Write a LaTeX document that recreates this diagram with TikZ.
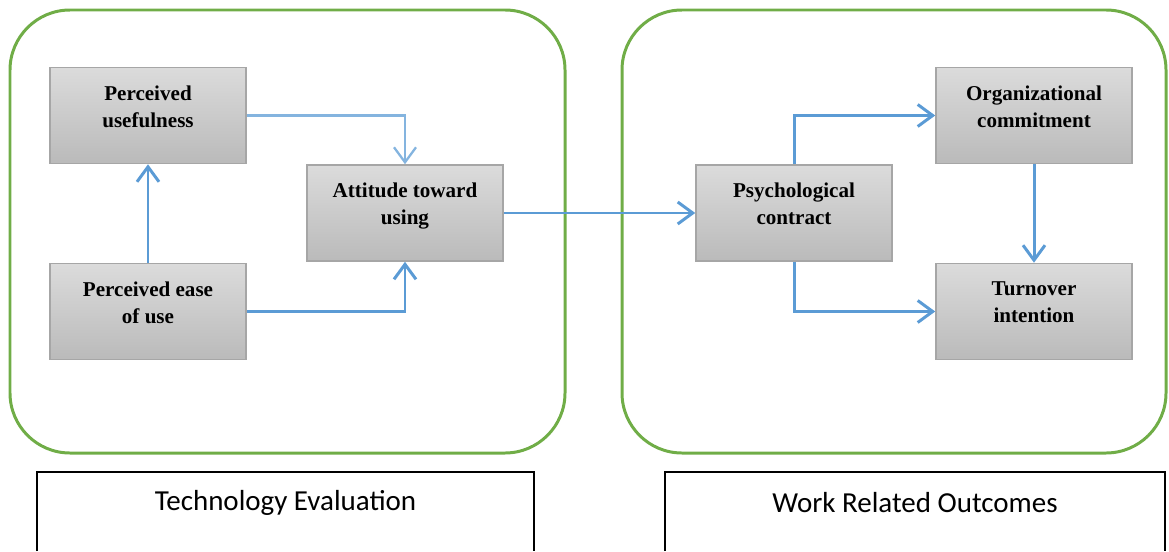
\documentclass[tikz,border=0pt]{standalone}
\usepackage{fontspec}
\setmainfont{Liberation Serif}
\newfontfamily\factorfont{Liberation Serif}
\newfontfamily\captionfont{Carlito}
\usetikzlibrary{arrows.meta}
\usetikzlibrary{calc}

\definecolor{linkblue}{HTML}{5B9BD5}
\definecolor{framegreen}{HTML}{70AD47}
\definecolor{boxedge}{HTML}{A6A6A6}

\begin{document}
\begin{tikzpicture}[x=0.02cm, y=-0.02cm, >={Straight Barb[length=3mm, width=4.4mm]},
    factor/.style={draw=boxedge, line width=0.9pt, top color=black!14, bottom color=black!27,
        minimum width=3.92cm, minimum height=1.92cm, align=center, text depth=0.36cm,
        font=\factorfont\fontsize{12}{15.3}\selectfont\bfseries},
    link/.style={->, linkblue, line width=1.7pt},
    frame/.style={framegreen, line width=1.7pt, rounded corners=1.2cm},
    caption/.style={font=\captionfont\fontsize{16.5}{19}\selectfont}]

        \useasboundingbox (0,0) rectangle (1169,551);

        % Draw group frames
        \draw[frame] (10,10) rectangle (565,453);
        \draw[frame] (622,10) rectangle (1166,453);

        % Technology evaluation factors
        \node[factor] (useful) at (148,115.5) {Perceived\\usefulness};
        \node[factor] (ease) at (148,311.5) {Perceived ease\\of use};
        \node[factor] (attitude) at (405,213) {Attitude toward\\using};

        % Work related factors
        \node[factor] (contract) at (794,213) {Psychological\\contract};
        \node[factor] (commit) at (1034,115.5) {Organizational\\commitment};
        \node[factor] (turnover) at (1034,311.5) {Turnover\\intention};

        % Draw connectors
        \draw[link, linkblue!75, line width=1.3pt] (useful.east) -| (attitude.north);
        \draw[link] (ease.north) -- (useful.south);
        \draw[link] (ease.east) -| (attitude.south);
        \draw[link] (attitude.east) -- (contract.west);
        \draw[link] (contract.north) |- (commit.west);
        \draw[link] (contract.south) |- (turnover.west);
        \draw[link] (commit.south) -- (turnover.north);

        % Captions below
        \draw[line width=1.1pt] (37,551) -- (37,472) -- (534,472) -- (534,551);
        \draw[line width=1.1pt] (665,551) -- (665,472) -- (1165,472) -- (1165,551);
        \node[caption] (techeval) at (285.5,503) {Technology Evaluation};
        \node[caption] (workout) at (915,503) {Work Related Outcomes};

    \end{tikzpicture}
\end{document}
